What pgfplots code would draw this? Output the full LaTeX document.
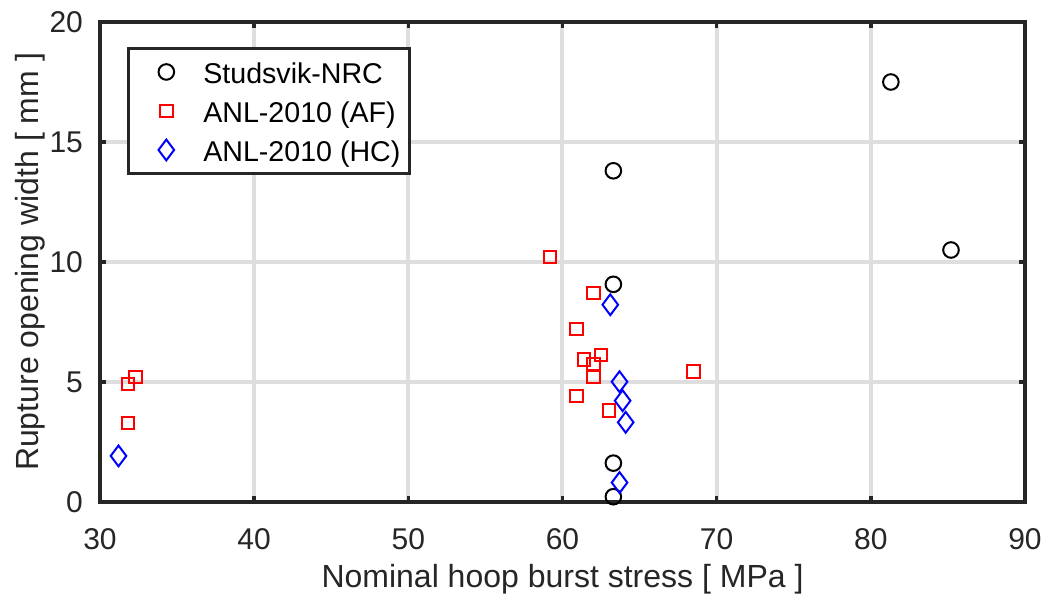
\documentclass[border=0pt]{standalone}
\usepackage{pgfplots}
\pgfplotsset{compat=1.18}
\usepackage{fontspec}
\setmainfont{Liberation Sans}
\definecolor{axc}{HTML}{262626}
\definecolor{gridc}{HTML}{DEDEDE}
\begin{document}
\begin{tikzpicture}
\path[use as bounding box] (-50pt,-46pt) rectangle (473pt,251pt);
\begin{axis}[
  at={(0,0)}, anchor=south west,
  scale only axis, width=462.5pt, height=240pt,
  xmin=30, xmax=90, ymin=0, ymax=20,
  xtick={30,40,...,90}, ytick={0,5,...,20},
  grid=major,
  major grid style={color=gridc, line width=2pt},
  axis line style={color=axc, line width=1.75pt},
  tick style={color=axc, line width=1.75pt},
  major tick length=3pt,
  tick align=inside,
  /pgf/number format/assume math mode=true,
  tick label style={font=\fontsize{15}{18}\selectfont, color=axc},
  xticklabel style={yshift=-9.5pt},
  yticklabel style={xshift=-5pt},
  xlabel={Nominal hoop burst stress [ MPa ]},
  ylabel={Rupture opening width [ mm ]},
  xlabel style={font=\fontsize{16}{19}\selectfont, color=axc, at={(axis description cs:0.5,-0.16)}, anchor=center},
  ylabel style={font=\fontsize{16}{19}\selectfont, color=axc, at={(axis description cs:-0.0757,0.5)}, anchor=center},
  legend style={at={(0.029,0.948)}, anchor=north west,
    draw=axc, line width=1.5pt, font=\fontsize{14.3}{17}\selectfont,
    inner xsep=4.5pt, inner ysep=4.5pt, row sep=5pt,
    nodes={inner sep=0pt, text height=13pt, text depth=1.5pt},
    /tikz/every odd column/.append style={column sep=12.5pt},
    /tikz/every even column/.append style={column sep=0pt}},
  legend image code/.code={\path[draw=none] (-14.5pt,-7pt) rectangle (6pt,7pt);
    \draw plot coordinates {(0pt,0pt)};},
  legend cell align=left,
]
\addplot[only marks, mark=o, mark size=3.9pt, line width=1pt, color=black]
  coordinates {(63.3,13.8) (63.3,9.07) (63.3,1.62) (63.3,0.22) (81.3,17.5) (85.2,10.5)};
\addlegendentry{Studsvik-NRC}
\addplot[only marks, mark=square, mark size=3.1pt, line width=1pt, color=red]
  coordinates {(59.2,10.2) (62.0,8.72) (60.9,7.22) (61.4,5.93) (62.5,6.12) (62.0,5.74) (62.0,5.22) (68.5,5.44) (60.9,4.42) (63.0,3.82) (32.3,5.22) (31.8,4.92) (31.8,3.3)};
\addlegendentry{ANL-2010 (AF)}
\addplot[only marks, mark=diamond, mark size=5.2pt, line width=1pt, color=blue]
  coordinates {(63.1,8.22) (63.7,5.01) (63.9,4.22) (64.1,3.32) (63.7,0.81) (31.2,1.92)};
\addlegendentry{ANL-2010 (HC)}
\end{axis}
\end{tikzpicture}
\end{document}
